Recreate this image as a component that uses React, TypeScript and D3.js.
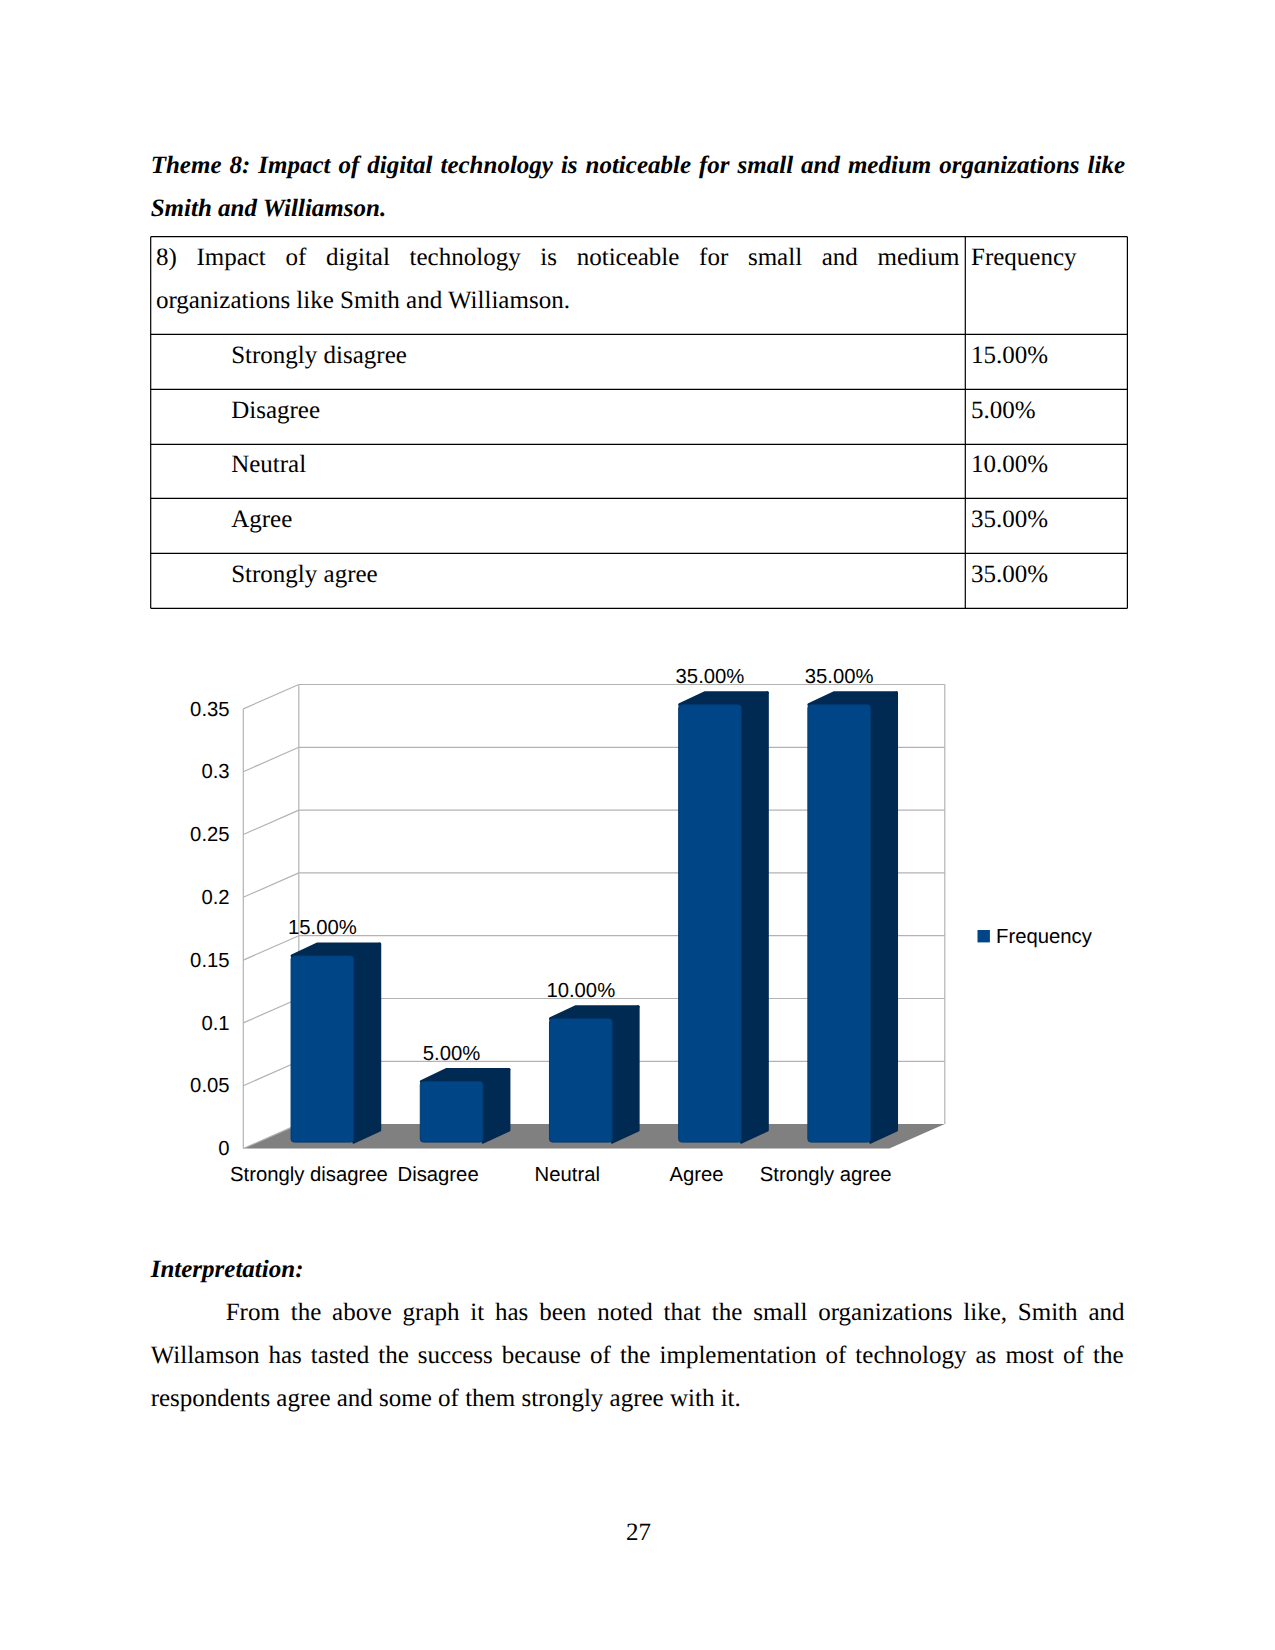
import React from "react";
import * as d3 from "d3";

const categories = ["Strongly disagree", "Disagree", "Neutral", "Agree", "Strongly agree"];
const values = [0.15, 0.05, 0.1, 0.35, 0.35];
const valueLabels = ["15.00%", "5.00%", "10.00%", "35.00%", "35.00%"];
const yTicks = [0, 0.05, 0.1, 0.15, 0.2, 0.25, 0.3, 0.35];
const seriesName = "Frequency";
const titleLines = [
  "Theme 8: Impact of digital technology is noticeable for small and medium organizations like",
  "Smith and Williamson.",
];
const headerLines = [
  "8) Impact of digital technology is noticeable for small and medium",
  "organizations like Smith and Williamson.",
];
const paragraphLines = [
  "From the above graph it has been noted that the small organizations like, Smith and",
  "Willamson has tasted the success because of the implementation of technology as most of the",
  "respondents agree and some of them strongly agree with it.",
];

const SERIF = "'Liberation Serif', serif";
const SANS = "'Liberation Sans', sans-serif";
const GRID = "#b3b3b3";
const FRONT = "#004586";
const DARK = "#002a52";
const BODY = 25;
const LABEL = 20.3;

const measureCtx = document.createElement("canvas").getContext("2d")!;
function wordSpacingFor(text: string, font: string, width: number) {
  measureCtx.font = font;
  const natural = measureCtx.measureText(text).width;
  const gaps = text.split(" ").length - 1;
  return gaps > 0 ? (width - natural) / gaps : 0;
}

function Justified(props: { text: string; x: number; y: number; right: number; italicBold?: boolean }) {
  const { text, x, y, right, italicBold } = props;
  const font = `${italicBold ? "italic bold " : ""}${BODY}px 'Liberation Serif'`;
  return (
    <text x={x} y={y} fontFamily={SERIF} fontSize={BODY} fontStyle={italicBold ? "italic" : undefined}
      fontWeight={italicBold ? "bold" : undefined} wordSpacing={wordSpacingFor(text, font, right - x)} fill="#000">
      {text}
    </text>
  );
}

function Chart() {
  const x0 = 243.3, x1 = 889.3, yBase = 1148.5, yTop = 708.9;
  const depthX = 55.5, depthY = 24.4;
  const barDX = 26, barDY = 11.9, barOffX = 14.5, barBottom = 6.4, barTopShift = 4.2;

  const x = d3.scaleBand<string>().domain(categories).range([x0, x1]).paddingInner(0).paddingOuter(0);
  const y = d3.scaleLinear().domain([0, 0.35]).range([yBase, yTop]);
  const barW = x.bandwidth() * 0.485;

  const poly = (pts: [number, number][]) => d3.line()(pts)! + "Z";

  return (
    <g>
      <path d={poly([[x0, yBase], [x0 + depthX, yBase - depthY], [x1 + depthX, yBase - depthY], [x1, yBase]])} fill="#808080" />
      {yTicks.map((t) => (
        <g key={t} stroke={GRID} strokeWidth={1.2} fill="none">
          <line x1={x0} y1={y(t)} x2={x0 + depthX} y2={y(t) - depthY} />
          {t > 0 && <line x1={x0 + depthX} y1={y(t) - depthY} x2={x1 + depthX} y2={y(t) - depthY} />}
        </g>
      ))}
      <g stroke={GRID} strokeWidth={1.2}>
        <line x1={x0} y1={y(0)} x2={x0} y2={y(0.35)} />
        <line x1={x0 + depthX} y1={y(0) - depthY} x2={x0 + depthX} y2={y(0.35) - depthY} />
        <line x1={x1 + depthX} y1={y(0) - depthY} x2={x1 + depthX} y2={y(0.35) - depthY} />
      </g>
      {yTicks.map((t) => (
        <text key={t} x={229.6} y={y(t) + 6.6} textAnchor="end" fontFamily={SANS} fontSize={LABEL} fill="#000">
          {String(t)}
        </text>
      ))}
      {categories.map((c, i) => {
        const left = (x(c) as number) + x.bandwidth() / 2 - barW / 2 + barOffX;
        const right = left + barW;
        const top = y(values[i]) - barTopShift;
        const bottom = yBase - barBottom;
        return (
          <g key={c}>
            <path d={poly([[left + 1, top], [left + barDX, top - barDY], [right + barDX, top - barDY], [right, top]])}
              fill={DARK} stroke={DARK} strokeWidth={3} strokeLinejoin="round" />
            <path d={poly([[right, top], [right + barDX, top - barDY], [right + barDX, bottom - barDY], [right, bottom]])}
              fill={DARK} stroke={DARK} strokeWidth={3} strokeLinejoin="round" />
            <rect x={left} y={top} width={barW} height={bottom - top} rx={3} fill={FRONT} stroke="#003b73" strokeWidth={1} />
            <text x={(left + right) / 2} y={top - 21.5} textAnchor="middle" fontFamily={SANS} fontSize={LABEL} fill="#000">
              {valueLabels[i]}
            </text>
            <text x={(x(c) as number) + x.bandwidth() / 2 + 1} y={1181} textAnchor="middle" fontFamily={SANS} fontSize={LABEL} fill="#000">
              {c}
            </text>
          </g>
        );
      })}
      <rect x={977.5} y={930} width={12.4} height={12.4} fill={FRONT} />
      <text x={996} y={942.7} fontFamily={SANS} fontSize={LABEL} fill="#000">{seriesName}</text>
    </g>
  );
}

function Table() {
  const L = 150.7, C = 965.3, R = 1127.4;
  const rowYs = [236.7, 334.3, 389.3, 444.3, 498.3, 553.3, 608.3];
  return (
    <g>
      <g stroke="#000" strokeWidth={1.2}>
        {rowYs.map((ry) => <line key={ry} x1={L} y1={ry} x2={R} y2={ry} />)}
        {[L, C, R].map((vx) => <line key={vx} x1={vx} y1={rowYs[0]} x2={vx} y2={rowYs[rowYs.length - 1]} />)}
      </g>
      <Justified text={headerLines[0]} x={155.9} y={265} right={959.5} />
      <text x={155.9} y={308.3} fontFamily={SERIF} fontSize={BODY}>{headerLines[1]}</text>
      <text x={971} y={265} fontFamily={SERIF} fontSize={BODY}>{seriesName}</text>
      {categories.map((c, i) => (
        <g key={c} fontFamily={SERIF} fontSize={BODY}>
          <text x={231.2} y={rowYs[i + 1] + (i === 2 ? 27.4 : 28.3)}>{c}</text>
          <text x={971} y={rowYs[i + 1] + (i === 2 ? 27.4 : 28.3)}>{valueLabels[i]}</text>
        </g>
      ))}
    </g>
  );
}

export default function App() {
  return (
    <svg width={1275} height={1650} viewBox="0 0 1275 1650" textRendering="geometricPrecision"
      style={{ position: "absolute", left: 0, top: 0, display: "block", background: "#fff" }}>
      <Justified text={titleLines[0]} x={150.7} y={172.7} right={1125} italicBold />
      <text x={150.7} y={216} fontFamily={SERIF} fontSize={BODY} fontStyle="italic" fontWeight="bold">{titleLines[1]}</text>
      <Table />
      <Chart />
      <text x={150.7} y={1277.2} fontFamily={SERIF} fontSize={BODY} fontStyle="italic" fontWeight="bold">Interpretation:</text>
      <Justified text={paragraphLines[0]} x={225.7} y={1320.3} right={1124.5} />
      <Justified text={paragraphLines[1]} x={150.7} y={1363.2} right={1123.5} />
      <text x={150.7} y={1405.7} fontFamily={SERIF} fontSize={BODY}>{paragraphLines[2]}</text>
      <text x={638.4} y={1540.3} textAnchor="middle" fontFamily={SERIF} fontSize={BODY}>27</text>
    </svg>
  );
}
